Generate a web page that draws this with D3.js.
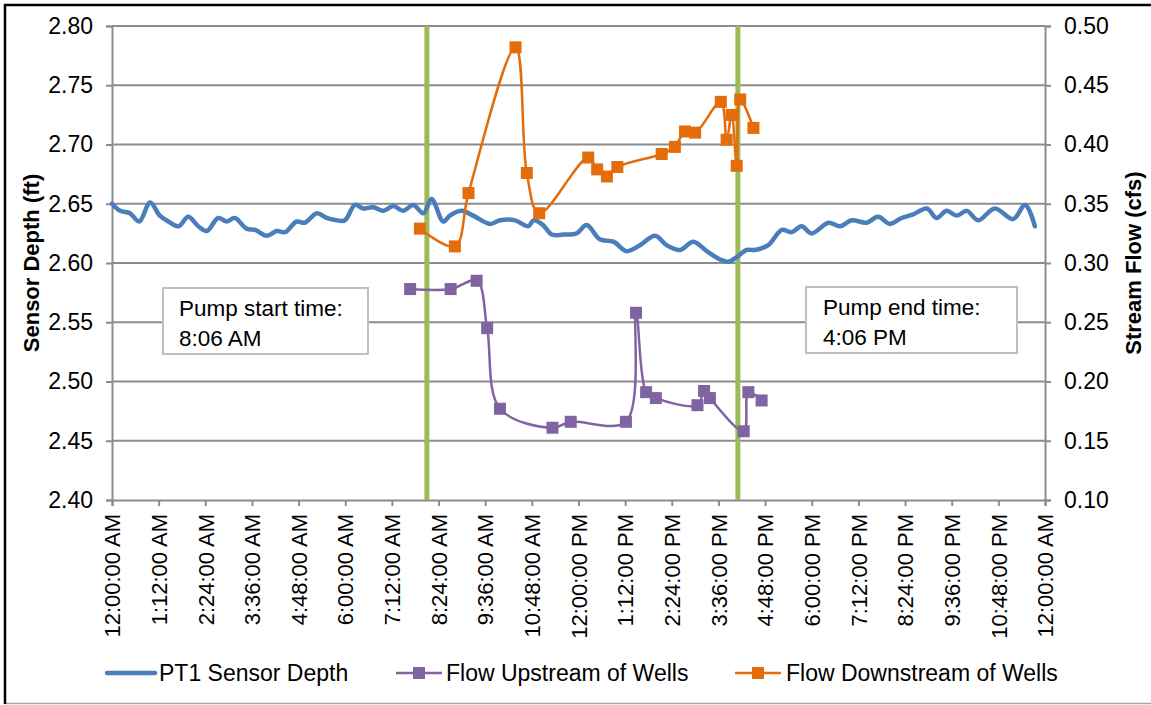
<!DOCTYPE html>
<html>
<head>
<meta charset="utf-8">
<script src="https://cdn.jsdelivr.net/npm/d3@7/dist/d3.min.js"></script>
<style>
  html, body { margin: 0; padding: 0; background: #fff; }
  svg { display: block; }
  text { font-family: "Liberation Sans", Arial, sans-serif; fill: #000; }
</style>
</head>
<body>
<svg id="chart" width="1151" height="705"></svg>
<script>
// ---------------- DATA ----------------
// time in decimal hours since midnight
const depthTimes = [0.00,0.21,0.46,0.70,0.98,1.23,1.45,1.71,1.96,2.22,2.44,2.73,2.95,3.16,3.46,3.68,3.98,4.24,4.45,4.75,4.96,5.27,5.52,5.78,5.99,6.25,6.46,6.72,6.98,7.24,7.49,7.75,8.01,8.22,8.52,8.69,9.00,9.29,9.72,9.98,10.37,10.71,10.84,11.09,11.31,11.61,11.95,12.21,12.55,12.90,13.24,13.58,13.97,14.27,14.61,14.95,15.30,15.64,15.85,16.07,16.33,16.54,16.88,17.23,17.48,17.74,18.00,18.43,18.73,19.03,19.41,19.71,20.01,20.31,20.61,20.96,21.21,21.47,21.73,21.99,22.28,22.71,23.18,23.49,23.74];
const depthValues = [2.650,2.644,2.642,2.635,2.651,2.640,2.635,2.631,2.639,2.631,2.627,2.638,2.635,2.638,2.629,2.628,2.623,2.627,2.626,2.635,2.634,2.642,2.638,2.636,2.636,2.649,2.646,2.647,2.644,2.648,2.644,2.649,2.642,2.654,2.635,2.640,2.644,2.640,2.633,2.636,2.636,2.631,2.636,2.632,2.624,2.624,2.625,2.632,2.620,2.618,2.610,2.615,2.623,2.615,2.611,2.618,2.610,2.603,2.601,2.605,2.611,2.611,2.615,2.628,2.626,2.631,2.625,2.634,2.631,2.636,2.634,2.639,2.633,2.638,2.641,2.646,2.638,2.644,2.640,2.644,2.636,2.646,2.637,2.649,2.631];

const upTimes  = [7.67,8.71,9.38,9.65,9.98,11.33,11.80,13.22,13.48,13.74,13.99,15.06,15.23,15.38,16.25,16.37,16.71];
const upValues = [0.278,0.278,0.285,0.245,0.177,0.161,0.166,0.166,0.258,0.191,0.186,0.180,0.192,0.186,0.158,0.191,0.184];

const downTimes  = [7.92,8.82,9.17,10.38,10.67,10.99,12.25,12.48,12.73,13.00,14.14,14.48,14.74,15.00,15.66,15.81,15.94,16.07,16.16,16.50];
const downValues = [0.329,0.314,0.359,0.482,0.376,0.342,0.389,0.379,0.373,0.381,0.392,0.398,0.411,0.410,0.436,0.404,0.425,0.382,0.438,0.414];

const xTickLabels = ["12:00:00 AM","1:12:00 AM","2:24:00 AM","3:36:00 AM","4:48:00 AM","6:00:00 AM","7:12:00 AM","8:24:00 AM","9:36:00 AM","10:48:00 AM","12:00:00 PM","1:12:00 PM","2:24:00 PM","3:36:00 PM","4:48:00 PM","6:00:00 PM","7:12:00 PM","8:24:00 PM","9:36:00 PM","10:48:00 PM","12:00:00 AM"];
const leftTicks  = [2.40,2.45,2.50,2.55,2.60,2.65,2.70,2.75,2.80];
const rightTicks = [0.10,0.15,0.20,0.25,0.30,0.35,0.40,0.45,0.50];

const pumpTimes  = [8.1, 16.1];
const pumpLabels = [["Pump start time:", "8:06 AM"], ["Pump end time:", "4:06 PM"]];

const seriesNames  = ["PT1 Sensor Depth", "Flow Upstream of Wells", "Flow Downstream of Wells"];
const leftTitle  = "Sensor Depth (ft)";
const rightTitle = "Stream Flow (cfs)";

// ---------------- LAYOUT ----------------
const L = 112, R = 1045, T = 26, B = 500;
const svg = d3.select("#chart");
const gridColor = "#8c8c8c";
const colBlue = "#4a7ebb", colPurple = "#8064a2", colOrange = "#e46c0a", colGreen = "#9bbb59";

const x  = d3.scaleLinear().domain([0, 24]).range([L, R]);
const yL = d3.scaleLinear().domain([2.40, 2.80]).range([B, T]);
const yR = d3.scaleLinear().domain([0.10, 0.50]).range([B, T]);

// frame
svg.append("line").attr("x1", 5).attr("x2", 1151).attr("y1", 703.5).attr("y2", 703.5)
  .attr("stroke", "#a6a6a6").attr("stroke-width", 1.5);
svg.append("path").attr("d", "M5,704 V5 H1151").attr("fill", "none")
  .attr("stroke", "#000").attr("stroke-width", 2.5);

// gridlines
svg.append("g").selectAll("line").data(leftTicks.slice(1)).join("line")
  .attr("x1", L).attr("x2", R)
  .attr("y1", d => yL(d)).attr("y2", d => yL(d))
  .attr("stroke", gridColor).attr("stroke-width", 2);

// left axis
const gL = svg.append("g").attr("transform", `translate(${L},0)`)
  .call(d3.axisLeft(yL).tickValues(leftTicks).tickFormat(d3.format(".2f")).tickSize(6).tickPadding(13));
// right axis
const gR = svg.append("g").attr("transform", `translate(${R},0)`)
  .call(d3.axisRight(yR).tickValues(rightTicks).tickFormat(d3.format(".2f")).tickSize(6).tickPadding(13));
// bottom axis
const xTickVals = xTickLabels.map((d, i) => i * 1.2);
const gB = svg.append("g").attr("transform", `translate(0,${B})`)
  .call(d3.axisBottom(x).tickValues(xTickVals).tickFormat((d, i) => xTickLabels[i]).tickSize(6).tickPadding(9));

[gL, gR, gB].forEach(g => {
  g.select(".domain").attr("stroke", gridColor).attr("stroke-width", 2);
  g.selectAll(".tick line").attr("stroke", gridColor).attr("stroke-width", 2);
  g.selectAll("text").style("font-size", "23px").attr("fill", "#000");
});
gB.selectAll(".tick text")
  .style("font-size", "22px")
  .attr("text-anchor", "end")
  .attr("dy", "0.35em")
  .attr("transform", "translate(0,14) rotate(-90)")
  .attr("x", 0).attr("y", 0);

// axis titles
svg.append("text").attr("transform", `translate(31,${(T + B) / 2}) rotate(-90)`)
  .attr("text-anchor", "middle").attr("dominant-baseline", "central")
  .style("font-size", "22px").style("font-weight", "bold").text(leftTitle);
svg.append("text").attr("transform", `translate(1133,${(T + B) / 2}) rotate(-90)`)
  .attr("text-anchor", "middle").attr("dominant-baseline", "central")
  .style("font-size", "22px").style("font-weight", "bold").text(rightTitle);

// annotation boxes
const boxes = [{x: 163, y: 288, w: 205, h: 66, tx: 179}, {x: 806, y: 287, w: 211, h: 66, tx: 823}];
boxes.forEach((b, i) => {
  const g = svg.append("g");
  g.append("rect").attr("x", b.x).attr("y", b.y).attr("width", b.w).attr("height", b.h)
    .attr("fill", "#fff").attr("stroke", "#bfbfbf").attr("stroke-width", 2);
  pumpLabels[i].forEach((t, j) => {
    g.append("text").attr("x", b.tx).attr("y", b.y + 28 + j * 30)
      .style("font-size", "22.5px").text(t);
  });
});

// pump lines
svg.append("g").selectAll("line").data(pumpTimes).join("line")
  .attr("x1", d => x(d)).attr("x2", d => x(d)).attr("y1", T).attr("y2", B)
  .attr("stroke", colGreen).attr("stroke-width", 5);

// series
const curve = d3.curveCatmullRom.alpha(0.5);
const depthData = depthTimes.map((t, i) => [t, depthValues[i]]);
const upData    = upTimes.map((t, i) => [t, upValues[i]]);
const downData  = downTimes.map((t, i) => [t, downValues[i]]);

svg.append("path").datum(depthData)
  .attr("d", d3.line().x(d => x(d[0])).y(d => yL(d[1])).curve(curve))
  .attr("fill", "none").attr("stroke", colBlue).attr("stroke-width", 4.5)
  .attr("stroke-linejoin", "round").attr("stroke-linecap", "round");

function flowSeries(data, color) {
  svg.append("path").datum(data)
    .attr("d", d3.line().x(d => x(d[0])).y(d => yR(d[1])).curve(curve))
    .attr("fill", "none").attr("stroke", color).attr("stroke-width", 2.5)
    .attr("stroke-linejoin", "round");
  const m = 12;
  svg.append("g").selectAll("rect").data(data).join("rect")
    .attr("x", d => x(d[0]) - m / 2).attr("y", d => yR(d[1]) - m / 2)
    .attr("width", m).attr("height", m).attr("fill", color);
}
flowSeries(upData, colPurple);
flowSeries(downData, colOrange);

// legend
const legY = 673;
const legend = [
  {name: seriesNames[0], color: colBlue, x1: 107, x2: 155, tx: 159, marker: false, w: 4.5},
  {name: seriesNames[1], color: colPurple, x1: 396, x2: 442, tx: 446, marker: true, w: 2.5},
  {name: seriesNames[2], color: colOrange, x1: 735, x2: 781, tx: 786, marker: true, w: 2.5}
];
legend.forEach(l => {
  svg.append("line").attr("x1", l.x1).attr("x2", l.x2).attr("y1", legY).attr("y2", legY)
    .attr("stroke", l.color).attr("stroke-width", l.w).attr("stroke-linecap", l.marker ? "butt" : "round");
  if (l.marker) {
    const cx = (l.x1 + l.x2) / 2;
    svg.append("rect").attr("x", cx - 6).attr("y", legY - 6).attr("width", 12).attr("height", 12).attr("fill", l.color);
  }
  svg.append("text").attr("x", l.tx).attr("y", legY).attr("dominant-baseline", "central")
    .style("font-size", "23px").text(l.name);
});
</script>
</body>
</html>
